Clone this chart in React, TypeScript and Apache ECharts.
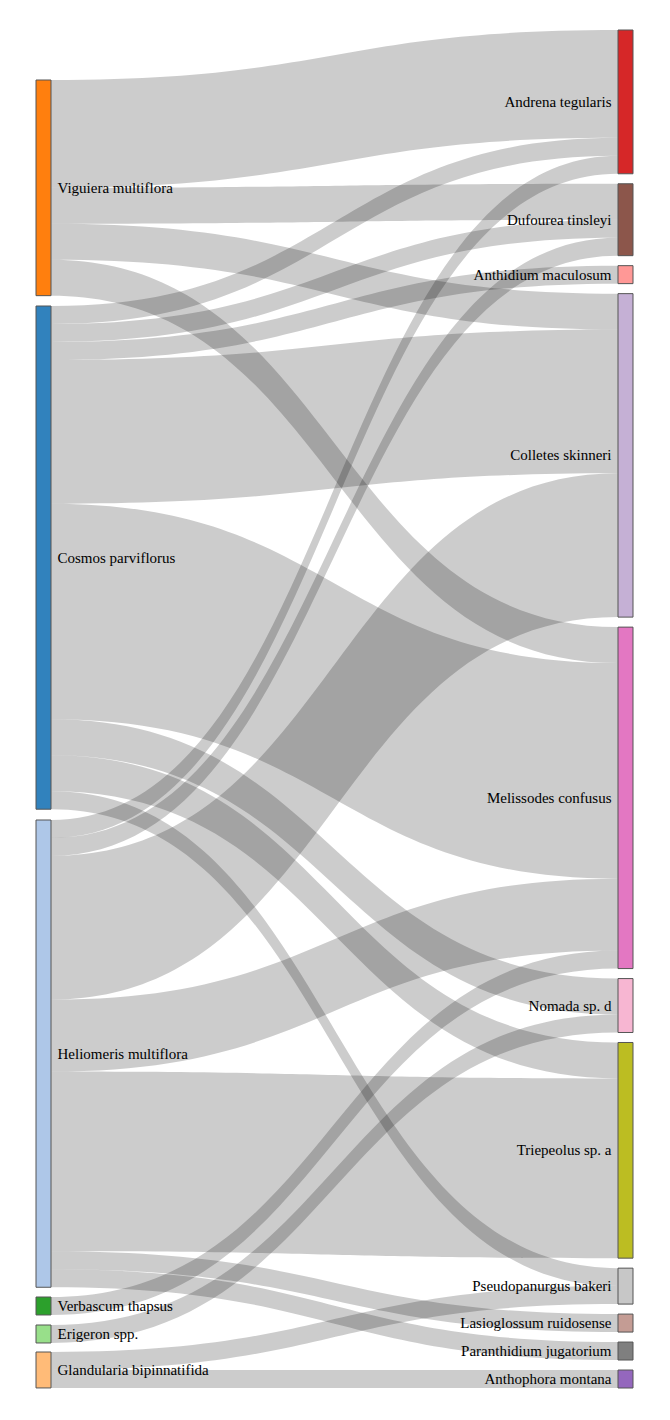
import { useEffect, useRef } from 'react';
import * as echarts from 'echarts';

const plants = ['Viguiera multiflora', 'Cosmos parviflorus', 'Heliomeris multiflora', 'Verbascum thapsus', 'Erigeron spp.', 'Glandularia bipinnatifida'];
const plantColors = ['#ff7f0e', '#3182bd', '#aec7e8', '#2ca02c', '#98df8a', '#ffbb78'];
// vertical position of the left column nodes, in px from the layout top
const plantTops = [50, 276, 790, 1267, 1295, 1322];

const bees = ['Andrena tegularis', 'Dufourea tinsleyi', 'Anthidium maculosum', 'Colletes skinneri', 'Melissodes confusus', 'Nomada sp. d', 'Triepeolus sp. a', 'Pseudopanurgus bakeri', 'Lasioglossum ruidosense', 'Paranthidium jugatorium', 'Anthophora montana'];
const beeColors = ['#d62728', '#8c564b', '#ff9896', '#c5b0d5', '#e377c2', '#f7b6d2', '#bcbd22', '#c7c7c7', '#c49c94', '#7f7f7f', '#9467bd'];

// [plant, bee, visits]
const visits: [string, string, number][] = [
    ['Viguiera multiflora', 'Andrena tegularis', 6],
    ['Viguiera multiflora', 'Dufourea tinsleyi', 2],
    ['Viguiera multiflora', 'Colletes skinneri', 2],
    ['Viguiera multiflora', 'Melissodes confusus', 2],
    ['Cosmos parviflorus', 'Andrena tegularis', 1],
    ['Cosmos parviflorus', 'Dufourea tinsleyi', 1],
    ['Cosmos parviflorus', 'Anthidium maculosum', 1],
    ['Cosmos parviflorus', 'Colletes skinneri', 8],
    ['Cosmos parviflorus', 'Melissodes confusus', 12],
    ['Cosmos parviflorus', 'Nomada sp. d', 2],
    ['Cosmos parviflorus', 'Triepeolus sp. a', 2],
    ['Cosmos parviflorus', 'Pseudopanurgus bakeri', 1],
    ['Heliomeris multiflora', 'Andrena tegularis', 1],
    ['Heliomeris multiflora', 'Dufourea tinsleyi', 1],
    ['Heliomeris multiflora', 'Colletes skinneri', 8],
    ['Heliomeris multiflora', 'Melissodes confusus', 4],
    ['Heliomeris multiflora', 'Triepeolus sp. a', 10],
    ['Heliomeris multiflora', 'Lasioglossum ruidosense', 1],
    ['Heliomeris multiflora', 'Paranthidium jugatorium', 1],
    ['Verbascum thapsus', 'Melissodes confusus', 1],
    ['Erigeron spp.', 'Nomada sp. d', 1],
    ['Glandularia bipinnatifida', 'Pseudopanurgus bakeri', 1],
    ['Glandularia bipinnatifida', 'Anthophora montana', 1],
];

const layoutHeight = 1358;

export default function App() {
    const chartRef = useRef<HTMLDivElement>(null);

    useEffect(() => {
        if (!chartRef.current) return;
        const chart = echarts.init(chartRef.current, undefined, { renderer: 'svg' });
        const nodes = [
            ...plants.map((name, i) => ({
                name,
                depth: 0,
                localY: plantTops[i] / layoutHeight,
                itemStyle: { color: plantColors[i] },
                label: { position: 'right' as const },
            })),
            ...bees.map((name, i) => ({
                name,
                depth: 1,
                itemStyle: { color: beeColors[i] },
                label: { position: 'left' as const },
            })),
        ];
        chart.setOption({
            animation: false,
            series: [
                {
                    type: 'sankey',
                    left: 28,
                    right: 29,
                    top: 22,
                    bottom: 24,
                    nodeWidth: 15,
                    nodeGap: 10,
                    layoutIterations: 0,
                    draggable: false,
                    emphasis: { disabled: true },
                    label: { color: '#000', fontFamily: '"Liberation Serif", "Times New Roman", serif', fontSize: 15, distance: 6 },
                    itemStyle: { borderColor: '#555', borderWidth: 1 },
                    lineStyle: { color: '#000', opacity: 0.2, curveness: 0.5 },
                    data: nodes,
                    links: visits.map(([source, target, value]) => ({ source, target, value })),
                },
            ],
        });
        return () => chart.dispose();
    }, []);

    return <div ref={chartRef} style={{ width: 654, height: 1404 }} />;
}
